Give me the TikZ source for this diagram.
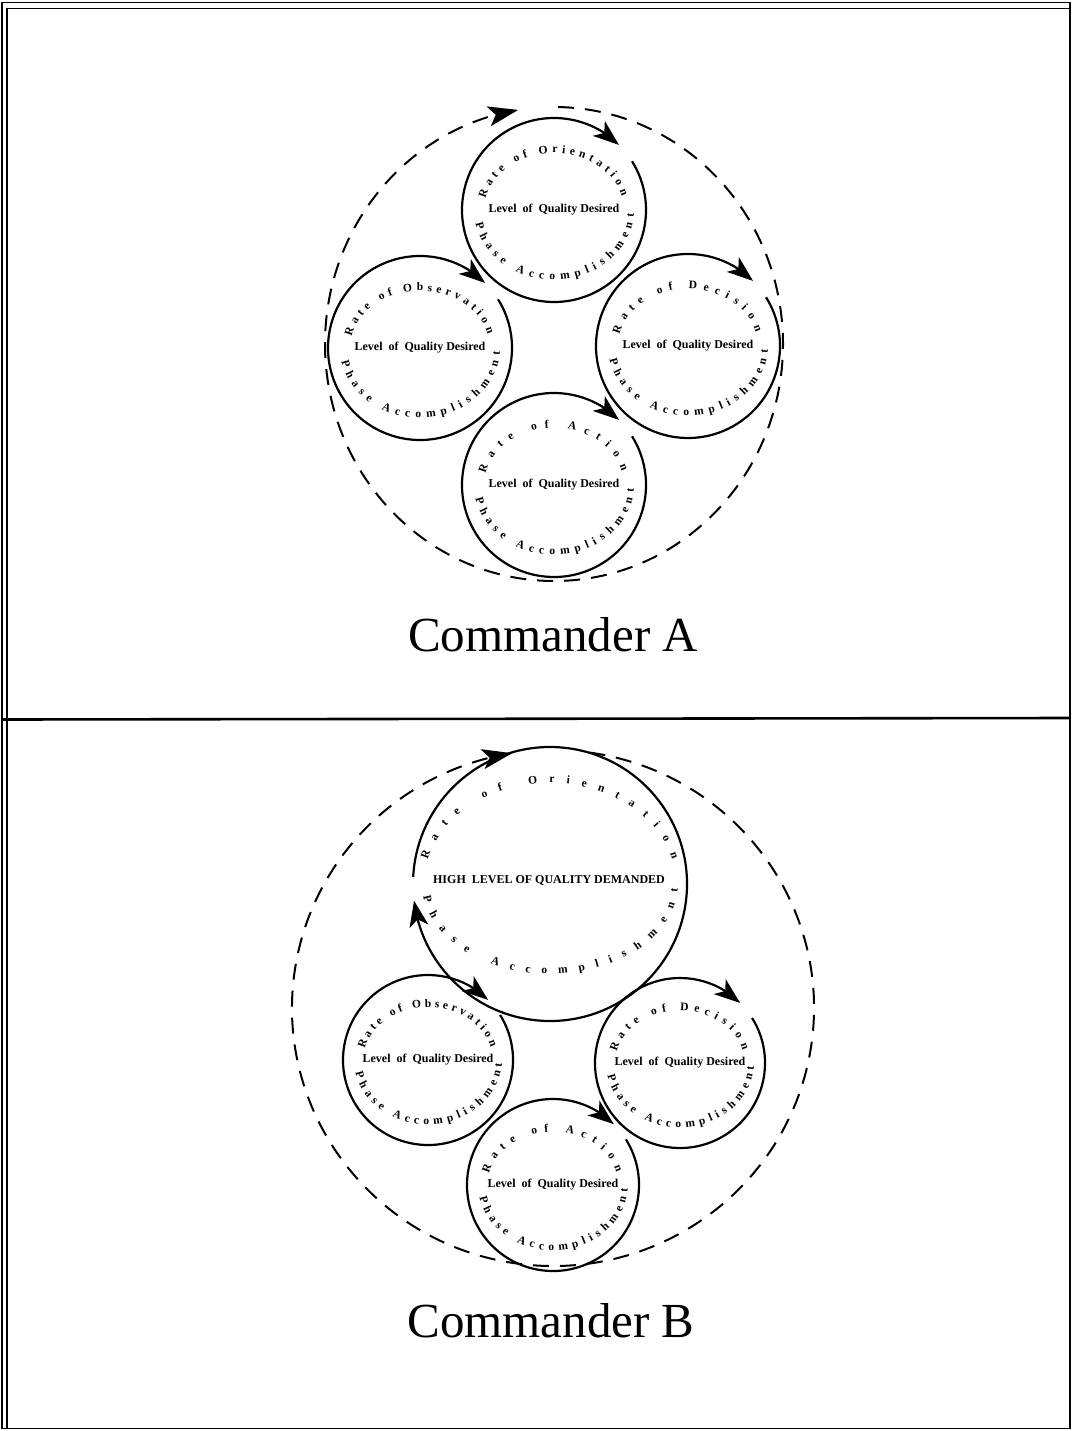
\documentclass[tikz,border=0pt]{standalone}
\usepackage{fontspec}
\setmainfont{Liberation Serif}
\usetikzlibrary{decorations.text,arrows.meta,bending,calc}

\newcommand\curvefont{\bfseries\fontsize{11.5}{13}\selectfont}
% #1 centre, #2 x radius, #3 y radius, #4 start angle, #5 end angle, #6 text
\newcommand\curvetext[6]{%
  \path[decorate,decoration={text along path,text align=fit to path,
      text={|\curvefont|#6}}]
    ([shift={(#4:#2pt and #3pt)}]#1) arc[start angle=#4,end angle=#5,x radius=#2pt,y radius=#3pt];
}
% #1 centre name, #2 radius, #3 word
\newcommand\phasering[3]{%
  \draw[cyc] ([shift={(32:#2pt)}]#1) arc[start angle=32,end angle=-315,radius=#2pt];
  \pgfmathsetmacro\txa{0.76*#2}\pgfmathsetmacro\tya{0.62*#2}%
  \pgfmathsetmacro\bxa{0.87*#2}\pgfmathsetmacro\bya{0.76*#2}%
  \curvetext{#1}{\txa}{\tya}{168}{14}{Rate of #3}
  \curvetext{#1}{\bxa}{\bya}{191}{357}{Phase Accomplishment}
  \node[ctext] (#1-t) at (#1) {Level\ \ of\ \ Quality Desired};
}

\begin{document}
\begin{tikzpicture}[x=1pt,y=1pt,
  cyc/.style={line width=2.2pt,-{Stealth[length=26pt,width=19pt,inset=7pt]}},
  outerring/.style={line width=2pt,dash pattern=on 16pt off 11pt,
      -{Stealth[length=30pt,width=20pt,inset=7pt]}},
  ctext/.style={font=\bfseries\fontsize{12}{14}\selectfont,inner sep=0pt},
  ctitle/.style={font=\fontsize{49}{55}\selectfont,inner sep=0pt,anchor=base},
  frameline/.style={line width=1.8pt}]
\useasboundingbox (0,0) rectangle (1073,-1431);

% frame
\draw[frameline] (2,-2.5) rectangle (1070,-1428.5);
\draw[line width=1.2pt] (7,-8) -- (7,-1428);
\draw[line width=1.2pt] (7,-8.5) -- (1070,-8.5);
\draw[line width=2.6pt] (2,-719.5) -- (1070,-718);

% ---------------- Commander A ----------------
\coordinate (A) at (554,-344);
\coordinate (Aori) at (554,-210);
\coordinate (Aobs) at (420,-348);
\coordinate (Adec) at (688,-346);
\coordinate (Aact) at (554,-485);

\draw[outerring] ([shift={(89:229pt and 237pt)}]A)
  arc[start angle=89,end angle=-261,x radius=229pt,y radius=237pt];

\phasering{Aori}{92}{Orientation}
\phasering{Aobs}{92}{Observation}
\phasering{Adec}{92}{Decision}
\phasering{Aact}{92}{Action}

\node[ctitle] (titleA) at (553,-651) {Commander A};

% ---------------- Commander B ----------------
\coordinate (B) at (553,-1008);
\coordinate (Bori) at (550,-884);
\coordinate (Bobs) at (428,-1060);
\coordinate (Bdec) at (680,-1063);
\coordinate (Bact) at (553,-1185);

\draw[outerring] ([shift={(82:261pt and 258pt)}]B)
  arc[start angle=82,end angle=-261,x radius=261pt,y radius=258pt];

\draw[cyc] ([shift={(177:137pt)}]Bori) arc[start angle=177,end angle=-173,radius=137pt];
\curvetext{Bori}{126}{101}{166}{14}{Rate of Orientation}
\curvetext{Bori}{128}{90}{188}{357}{Phase Accomplishment}
\node[ctext] (Bori-t) at (549,-880) {HIGH\ \ LEVEL OF QUALITY DEMANDED};

\phasering{Bobs}{85}{Observation}
\phasering{Bdec}{85}{Decision}
\phasering{Bact}{86}{Action}

\node[ctitle] (titleB) at (551,-1337) {Commander B};
\end{tikzpicture}
\end{document}
